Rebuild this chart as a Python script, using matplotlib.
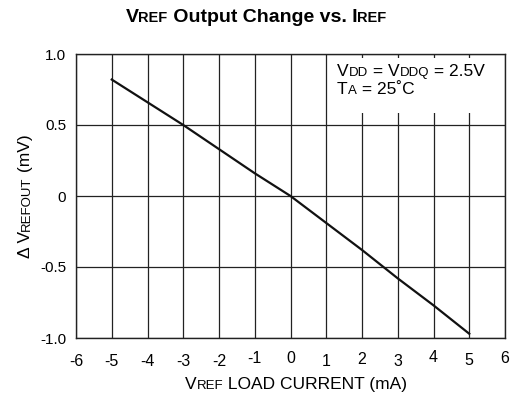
import matplotlib
matplotlib.use('Agg')
import matplotlib.pyplot as plt

plt.rcParams['font.family'] = ['Liberation Sans', 'DejaVu Sans']

# load current (mA) and change of VREF output (mV)
current = [-5, -4, -3, -2, -1, 0, 1, 2, 3, 4, 5]
delta_vref = [0.82, 0.66, 0.50, 0.33, 0.16, 0.0, -0.19, -0.38, -0.58, -0.77, -0.97]

x_ticks = [-6, -5, -4, -3, -2, -1, 0, 1, 2, 3, 4, 5, 6]
y_ticks = [1.0, 0.5, 0, -0.5, -1.0]
y_labels = ['1.0', '0.5', '0', '-0.5', '-1.0']
# the x tick labels in the original sit at slightly uneven heights (px up)
x_label_shift = [0, 0, 0, 0, 0, 3, 3, 0, 2, 0, 4, 1, 3]

W, H = 511, 401
fig = plt.figure(figsize=(W / 100, H / 100), dpi=100)
renderer = fig.canvas.get_renderer()


def mixed(parts, x, y, center=True, rotation=0, weight='normal'):
    # parts: (string, fontsize); drawn on one baseline, x/y in pixels from top-left
    widths = []
    for s, fs in parts:
        tmp = fig.text(0, 0, s, fontsize=fs, fontweight=weight)
        widths.append(tmp.get_window_extent(renderer).width)
        tmp.remove()
    pos = -sum(widths) / 2 if center else 0
    for (s, fs), w in zip(parts, widths):
        if rotation == 90:
            fig.text(x / W, 1 - (y - pos) / H, s, fontsize=fs, fontweight=weight,
                     rotation=90, rotation_mode='anchor', ha='left', va='baseline')
        else:
            fig.text((x + pos) / W, 1 - y / H, s, fontsize=fs, fontweight=weight,
                     ha='left', va='baseline')
        pos += w


ax = fig.add_axes([76 / W, 1 - 338 / H, (505 - 76) / W, (338 - 54) / H])
ax.plot(current, delta_vref, color='#111111', lw=1.6, zorder=4)

ax.set_xlim(-6, 6)
ax.set_ylim(-1.0, 1.0)
ax.set_xticks(x_ticks)
ax.set_yticks(y_ticks)
ax.set_yticklabels(y_labels, fontsize=11)
ax.set_xticklabels([])
for xv, dy in zip(x_ticks, x_label_shift):
    ax.annotate(str(xv), xy=(xv, -1.0), xytext=(0, -11.5 + dy * 0.72),
                textcoords='offset points', ha='center', va='top', fontsize=11.5)
ax.tick_params(length=0, pad=7)
ax.grid(True, color='#222222', lw=0.9)
for s in ax.spines.values():
    s.set_linewidth(1.0)
    s.set_color('#222222')

# white condition box in the upper right corner
box = plt.Rectangle((328 / W, 1 - 113 / H), (504 - 328) / W, (113 - 58) / H,
                    transform=fig.transFigure, facecolor='white', edgecolor='none', zorder=5)
box.set_clip_on(False)
ax.add_artist(box)
mixed([('V', 12.5), ('DD', 9.5), (' = V', 12.5), ('DDQ', 9.5), (' = 2.5V', 12.5)],
      337, 76, center=False)
mixed([('T', 12.5), ('A', 9.5), (' = 25˚C', 12.5)], 337, 94, center=False)

mixed([('V', 14), ('REF', 10.5), (' Output Change vs. I', 14), ('REF', 10.5)],
      256, 22, weight='bold')
mixed([('Δ V', 12.5), ('REFOUT', 9.5), (' (mV)', 12.5)], 30, 196, rotation=90)
mixed([('V', 12.5), ('REF', 9.5), (' LOAD CURRENT (mA)', 12.5)], 296, 389)

fig.savefig('out.png', dpi=100)
